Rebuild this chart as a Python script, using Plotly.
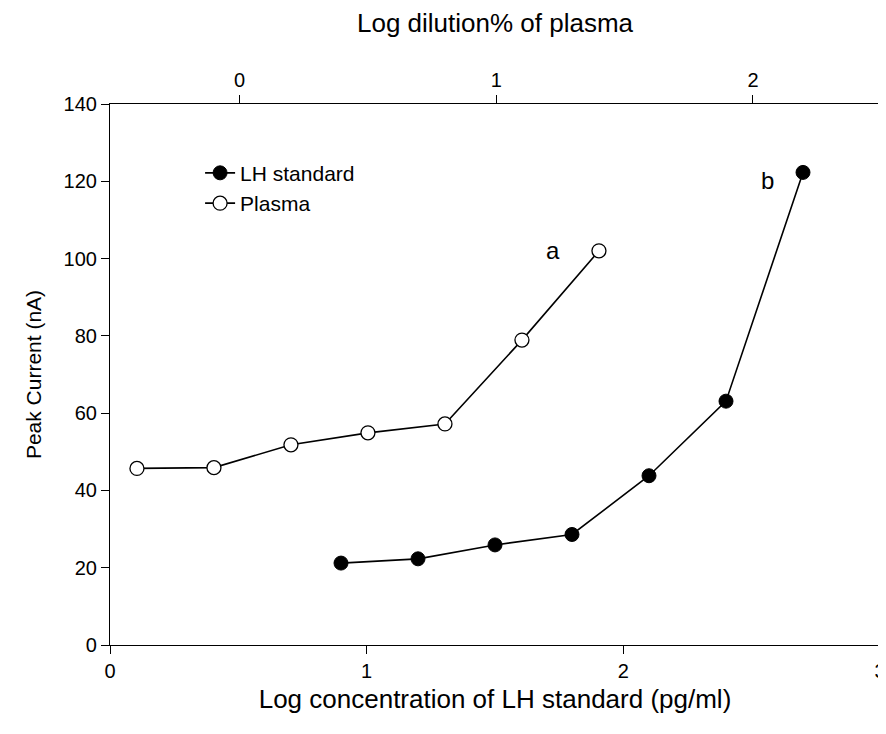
import plotly.graph_objects as go

# LH standard (bottom axis: log concentration of LH standard, pg/ml)
lh_x = [0.9, 1.2, 1.5, 1.8, 2.1, 2.4, 2.7]
lh_y = [21.2, 22.3, 25.9, 28.6, 43.8, 63.1, 122.3]

# Plasma (top axis: log dilution% of plasma)
plasma_x = [-0.4, -0.1, 0.2, 0.5, 0.8, 1.1, 1.4]
plasma_y = [45.7, 45.9, 51.8, 54.9, 57.2, 78.9, 102.0]

x_ticks = [0, 1, 2, 3]
x2_ticks = [0, 1, 2]
y_ticks = [0, 20, 40, 60, 80, 100, 120, 140]

FONT = "Liberation Sans, Arial, sans-serif"

fig = go.Figure()
fig.add_trace(go.Scatter(
    x=lh_x, y=lh_y, name="LH standard", mode="lines+markers",
    line=dict(color="black", width=1.6),
    marker=dict(symbol="circle", size=14, color="black",
                line=dict(color="black", width=1)),
    xaxis="x", yaxis="y",
))
fig.add_trace(go.Scatter(
    x=plasma_x, y=plasma_y, name="Plasma", mode="lines+markers",
    line=dict(color="black", width=1.6),
    marker=dict(symbol="circle", size=14, color="white",
                line=dict(color="black", width=1.3)),
    xaxis="x2", yaxis="y",
))

fig.add_annotation(x=1.726, y=102, xref="x", yref="y", text="a",
                   showarrow=False, font=dict(size=24, color="black", family=FONT))
fig.add_annotation(x=2.56, y=120.3, xref="x", yref="y", text="b",
                   showarrow=False, font=dict(size=24, color="black", family=FONT))

axis_common = dict(showgrid=False, zeroline=False, showline=True,
                   linecolor="black", linewidth=1.2, ticks="outside",
                   ticklen=8, tickwidth=1.2, tickcolor="black",
                   automargin=False,
                   tickfont=dict(size=20, color="black", family=FONT))

fig.update_layout(
    width=878, height=726,
    paper_bgcolor="white", plot_bgcolor="white",
    margin=dict(l=102, r=6, t=96, b=89),
    font=dict(family=FONT, color="black"),
    xaxis=dict(range=[0, 3], tickvals=x_ticks, mirror=False,
               title=dict(text="Log concentration of LH standard (pg/ml)",
                          font=dict(size=26, family=FONT), standoff=8),
               **axis_common),
    xaxis2=dict(range=[-0.505, 2.495], tickvals=x2_ticks, overlaying="x",
                side="top", anchor="y",
                title=dict(text="Log dilution% of plasma",
                           font=dict(size=26, family=FONT), standoff=29),
                **axis_common),
    yaxis=dict(range=[0, 140], tickvals=y_ticks, mirror=True,
               title=dict(text="Peak Current (nA)",
                          font=dict(size=21, family=FONT), standoff=16),
               **axis_common),
    legend=dict(x=0.117, y=0.91, xanchor="left", yanchor="top",
                bgcolor="rgba(0,0,0,0)", borderwidth=0,
                font=dict(size=21, family=FONT, color="black"),
                tracegroupgap=0),
    showlegend=True,
)

fig.write_html("out.html")
